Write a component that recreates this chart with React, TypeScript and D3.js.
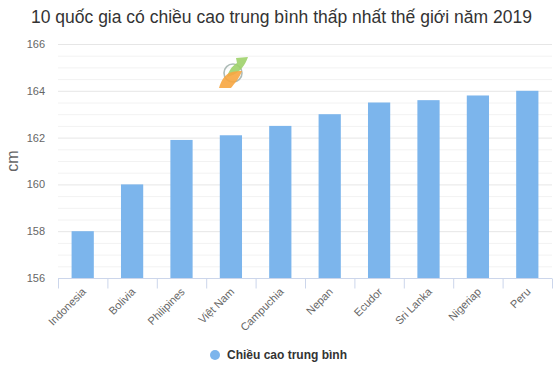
import React, { useEffect, useRef } from 'react';
import * as d3 from 'd3';

const countries = ['Indonesia', 'Bolivia', 'Philipines', 'Việt Nam', 'Campuchia', 'Nepan', 'Ecudor', 'Sri Lanka', 'Nigeriap', 'Peru'];
const heights = [158, 160, 161.9, 162.1, 162.5, 163, 163.5, 163.6, 163.8, 164];
const yTicks = [156, 158, 160, 162, 164, 166];

const App: React.FC = () => {
  const svgRef = useRef<SVGSVGElement | null>(null);

  useEffect(() => {
    if (!svgRef.current) return;
    const svg = d3.select(svgRef.current);
    svg.selectAll('*').remove();

    const font = '"Liberation Sans", Arial, sans-serif';
    const margin = { top: 44, right: 8, bottom: 93, left: 58 };
    const width = 560;
    const height = 371;

    const x = d3.scaleBand<string>()
      .domain(countries)
      .range([margin.left, width - margin.right])
      .paddingInner(0.55)
      .paddingOuter(0.275);

    const y = d3.scaleLinear().domain([156, 166]).range([height - margin.bottom, margin.top]);

    // title
    svg.append('text')
      .attr('x', 31).attr('y', 23)
      .attr('font-family', font).attr('font-size', 17.5).attr('fill', '#333')
      .text('10 quốc gia có chiều cao trung bình thấp nhất thế giới năm 2019');

    // minor grid
    svg.append('g').selectAll('line')
      .data(d3.range(156.5, 166, 0.5).filter(v => v % 2 !== 0))
      .enter().append('line')
      .attr('x1', margin.left).attr('x2', width - margin.right)
      .attr('y1', d => y(d) + 0.5).attr('y2', d => y(d) + 0.5)
      .attr('stroke', '#f2f2f2').attr('stroke-width', 1);

    // major grid
    svg.append('g').selectAll('line')
      .data(yTicks.slice(1))
      .enter().append('line')
      .attr('x1', margin.left).attr('x2', width - margin.right)
      .attr('y1', d => y(d) + 0.5).attr('y2', d => y(d) + 0.5)
      .attr('stroke', '#e6e6e6').attr('stroke-width', 1);

    // y labels
    svg.append('g').selectAll('text')
      .data(yTicks)
      .enter().append('text')
      .attr('x', 45).attr('y', d => y(d) + 4)
      .attr('text-anchor', 'end')
      .attr('font-family', font).attr('font-size', 11).attr('fill', '#666')
      .text(d => d);

    svg.append('text')
      .attr('transform', `translate(18,${(margin.top + height - margin.bottom) / 2}) rotate(-90)`)
      .attr('text-anchor', 'middle')
      .attr('font-family', font).attr('font-size', 16).attr('fill', '#666')
      .text('cm');

    // watermark logo (approximate)
    const logo = svg.append('g').attr('transform', 'translate(233,73)');
    logo.append('circle').attr('r', 9).attr('fill', 'none').attr('stroke', '#9aaba6').attr('stroke-width', 1.6).attr('opacity', 0.8);
    logo.append('path')
      .attr('d', 'M3,-15 L15,-16 C12,-8 8,-2 0,2 L-6,4 C-4,-2 -2,-6 4,-10 Z')
      .attr('fill', '#9fd16a').attr('opacity', 0.9);
    logo.append('path')
      .attr('d', 'M-4,0 C2,-2 6,-2 9,-2 C6,6 2,10 -2,15 L-14,15 C-12,8 -9,3 -4,0 Z')
      .attr('fill', '#f7a640').attr('opacity', 0.9);

    // bars
    svg.append('g').selectAll('rect')
      .data(countries)
      .enter().append('rect')
      .attr('x', d => x(d) as number)
      .attr('y', (d, i) => y(heights[i]))
      .attr('width', x.bandwidth())
      .attr('height', (d, i) => y(156) - y(heights[i]))
      .attr('fill', '#7cb5ec');

    // x axis
    const axisY = y(156) + 0.5;
    svg.append('line')
      .attr('x1', margin.left).attr('x2', width - margin.right)
      .attr('y1', axisY).attr('y2', axisY)
      .attr('stroke', '#ccd6eb');
    const step = x.step();
    svg.append('g').selectAll('line')
      .data(d3.range(countries.length + 1))
      .enter().append('line')
      .attr('x1', i => margin.left + i * step + 0.5).attr('x2', i => margin.left + i * step + 0.5)
      .attr('y1', axisY).attr('y2', axisY + 10)
      .attr('stroke', '#ccd6eb');

    svg.append('g').selectAll('text')
      .data(countries)
      .enter().append('text')
      .attr('transform', d => `translate(${(x(d) as number) + x.bandwidth() / 2 + 4},${axisY + 14}) rotate(-45)`)
      .attr('text-anchor', 'end')
      .attr('font-family', font).attr('font-size', 11).attr('fill', '#666')
      .text(d => d);

    // legend
    svg.append('circle').attr('cx', 215).attr('cy', 355).attr('r', 5).attr('fill', '#7cb5ec');
    svg.append('text')
      .attr('x', 227).attr('y', 359)
      .attr('font-family', font).attr('font-size', 12).attr('font-weight', 'bold').attr('fill', '#333')
      .text('Chiều cao trung bình');
  }, []);

  return <svg ref={svgRef} width={560} height={371} style={{ position: 'absolute', left: 0, top: 0, background: '#fff' }}></svg>;
};

export default App;
